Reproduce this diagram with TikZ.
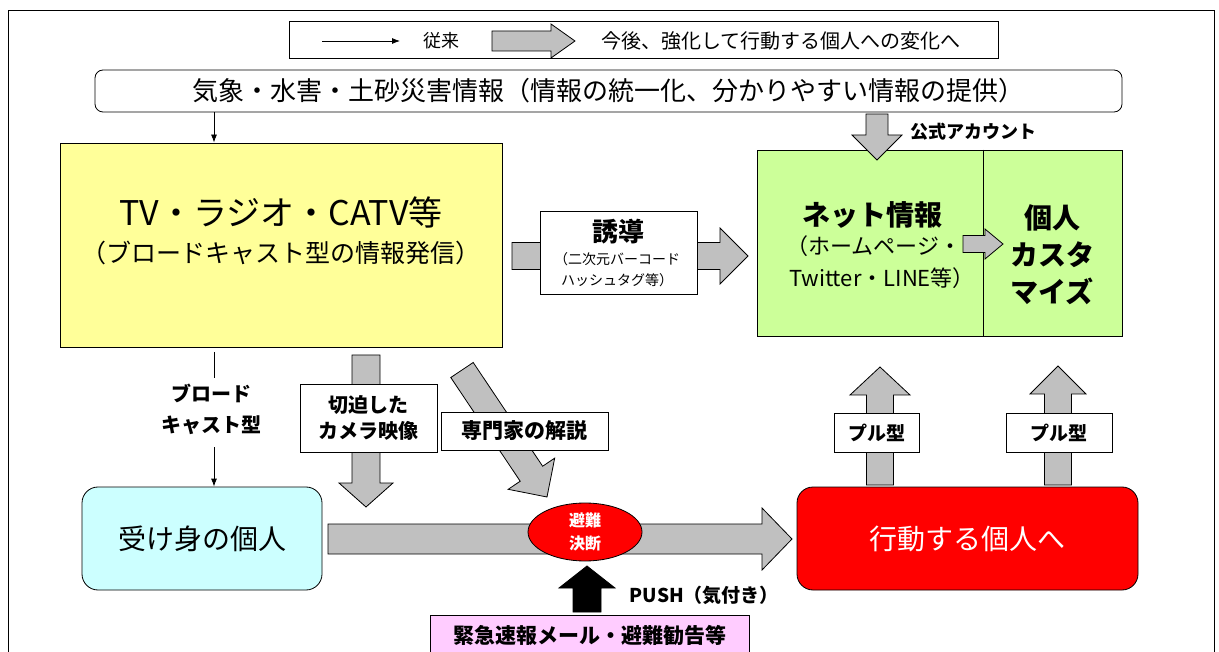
\documentclass[tikz,border=0pt]{standalone}
\usepackage{fontspec}
\setmainfont{Noto Sans CJK JP}
\usetikzlibrary{arrows.meta,calc,shapes.geometric}
\definecolor{arrgray}{HTML}{C0C0C0}
\definecolor{yellowbg}{HTML}{FFFF99}
\definecolor{greenbg}{HTML}{CCFF99}
\definecolor{cyanbg}{HTML}{CCFFFF}
\definecolor{pinkbg}{HTML}{FFCCFF}
\newcommand{\fsz}[2]{\fontsize{#1}{#2}\selectfont}
\newcommand{\blockarr}[8][]{%
  \pgfmathsetmacro\baang{atan2(-(#5-#3),#4-#2)}%
  \pgfmathsetmacro\balen{veclen(#4-#2,#5-#3)}%
  \begin{scope}[shift={(#2,#3)},rotate=\baang]
    \draw[garrow,#1] (0,-#6/2) -- (\balen-#8,-#6/2) -- (\balen-#8,-#7/2) -- (\balen,0)
      -- (\balen-#8,#7/2) -- (\balen-#8,#6/2) -- (0,#6/2) -- cycle;
  \end{scope}}
\begin{document}
\begin{tikzpicture}[x=1pt,y=-1pt,line width=0.8pt,
  garrow/.style={draw=black,fill=arrgray,line join=miter},
  lbl/.style={draw,fill=white,align=center,inner sep=0pt},
  thinarr/.style={-{Latex[length=8pt,width=6pt]}},
  box/.style={draw,inner sep=0pt,align=center}]
\useasboundingbox (0,0) rectangle (1219,652);
\draw (8,10) rectangle (1214,700);
% legend
\node[box,minimum width=709pt,minimum height=37pt] (legend) at (643.5,39.5) {};
\coordinate (lg1) at (322,41);
\coordinate (lg2) at (400,41);
\draw[thinarr] (lg1) -- (lg2);
\node[font=\fsz{18}{20}] (lgold) at (441,41) {従来};
\blockarr{492}{41}{575}{41}{20}{34}{24}
\node[font=\fsz{20}{22}] (lgnew) at (781,41) {今後、強化して行動する個人への変化へ};
% title
\node[box,rounded corners=8pt,minimum width=1027pt,minimum height=42pt,font=\fsz{26}{30}] (title) at (608.5,91)
  {気象・水害・土砂災害情報（情報の統一化、分かりやすい情報の提供）};
% TV box
\node[box,fill=yellowbg,minimum width=442pt,minimum height=204pt] (tv) at (281,245) {};
\node[font=\fsz{34}{40}] (tvt) at (281,212) {TV・ラジオ・CATV等};
\node[font=\fsz{25}{30}] (tvs) at (281,253) {（ブロードキャスト型の情報発信）};
\coordinate (bx) at (214,0);
\draw[thinarr] (title.south -| bx) -- (tv.north -| bx);
% net box
\node[box,fill=greenbg,minimum width=365pt,minimum height=186pt] (net) at (939.5,243) {};
\coordinate (dv) at (983,0);
\draw (net.north -| dv) -- (net.south -| dv);
\node[font=\bfseries\fsz{28}{32}] (nett) at (872,215) {ネット情報};
\node[font=\fsz{22}{26}] (nets1) at (874,246) {（ホームページ・};
\node[font=\fsz{22}{26}] (nets2) at (882,278) {Twitter・LINE等）};
\blockarr{963}{244}{1003}{244}{17}{30}{18}
\node[align=center,font=\bfseries\fsz{28}{37}] (custom) at (1052,255) {個人\\カスタ\\マイズ};
% official account
\blockarr{877}{114}{877}{160}{22}{50}{25}
\node[font=\bfseries\fsz{18}{20}] (koshiki) at (973,132) {公式アカウント};
% yudo
\blockarr{512}{256}{748}{256}{27}{56}{28}
\node[lbl,minimum width=157pt,minimum height=83pt] (yudo) at (618.5,252.5) {};
\node[font=\bfseries\fsz{26}{30}] (yudot) at (618,232) {誘導};
\node[align=center,font=\fsz{14}{21}] (yudos) at (617,270) {（二次元バーコード\\ハッシュタグ等）};
% broadcast
\coordinate (b1) at (214,352);
\coordinate (b2) at (214,378);
\coordinate (b3) at (214,447);
\draw (b1) -- (b2);
\node[align=center,font=\bfseries\fsz{20}{31}] (bclbl) at (211,409) {ブロード\\キャスト型};
% camera arrow
\blockarr{366}{355}{366}{507}{28}{54}{24}
\node[lbl,minimum width=137pt,minimum height=68pt,font=\bfseries\fsz{20}{26}] (camera) at (368.5,418) {切迫した\\カメラ映像};
% expert arrow
\blockarr{462}{370}{547}{497}{27}{56}{28}
\node[lbl,minimum width=167pt,minimum height=38pt,font=\bfseries\fsz{21}{24}] (expert) at (524.5,431) {専門家の解説};
% passive / active
\node[box,fill=cyanbg,rounded corners=16pt,minimum width=240pt,minimum height=103pt,font=\fsz{28}{32}] (blue) at (202,538.5) {受け身の個人};
\draw[thinarr] (b3) -- (blue.north -| bx);
\node[box,fill=red,text=white,rounded corners=16pt,minimum width=341pt,minimum height=103pt,font=\fsz{28}{32}] (active) at (967.5,538.5) {行動する個人へ};
\blockarr{328}{539}{792}{539}{30}{62}{30}
\node[ellipse,draw,fill=red,text=white,align=center,inner sep=0pt,minimum width=114pt,minimum height=58pt,font=\bfseries\fsz{16}{23}] (ketsu) at (585,532) {避難\\決断};
% push
\blockarr[fill=black]{587}{612}{587}{566}{28}{56}{22}
\node[anchor=west,font=\bfseries\fsz{19}{22}] (push) at (626,595) {PUSH（気付き）};
\node[box,fill=pinkbg,minimum width=319pt,minimum height=60pt,anchor=north] (mail) at (589.5,615) {};
\node[font=\bfseries\fsz{21}{24}] (mailt) at (590,635) {緊急速報メール・避難勧告等};
% pull arrows
\blockarr{880}{485}{880}{367}{27}{60}{28}
\node[lbl,minimum width=85pt,minimum height=39pt,font=\bfseries\fsz{19}{22}] (pull1) at (876.5,432.5) {プル型};
\blockarr{1058}{485}{1058}{366}{27}{56}{28}
\node[lbl,minimum width=106pt,minimum height=39pt,font=\bfseries\fsz{19}{22}] (pull2) at (1059,432.5) {プル型};
\end{tikzpicture}
\end{document}
